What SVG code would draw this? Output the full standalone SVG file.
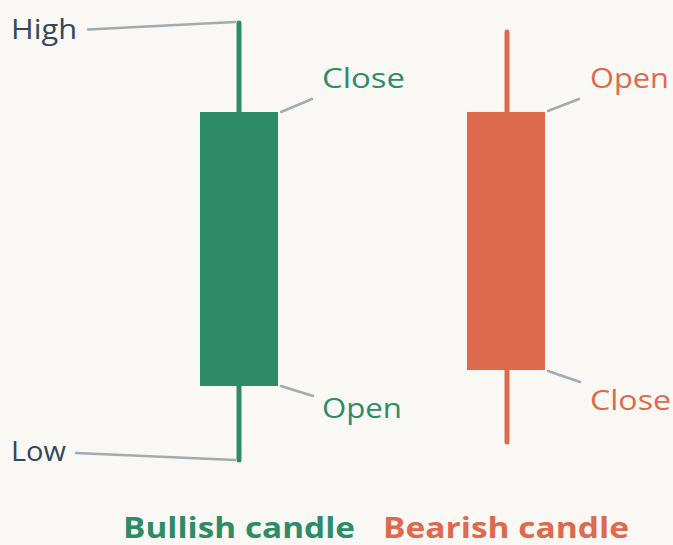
<svg xmlns="http://www.w3.org/2000/svg" width="673" height="545" viewBox="0 0 673 545">
<style>
.lbl{font-family:"Open Sans","Liberation Sans",sans-serif;font-size:28px}
.dark{fill:#34475c}
.g{fill:#2e8b67}
.r{fill:#dd6a4d}
.lead{stroke:#a2abb1;stroke-width:2.5;fill:none;stroke-linecap:round}
.title{font-family:"Open Sans","Liberation Sans",sans-serif;font-size:28px;font-weight:bold}
</style>
<rect width="673" height="545" fill="#faf8f5"/>
<g id="connectors">
<line class="lead" x1="88" y1="29.5" x2="235" y2="22"/>
<line class="lead" x1="76" y1="453" x2="235" y2="460"/>
<line class="lead" x1="281" y1="112" x2="312" y2="99"/>
<line class="lead" x1="281" y1="386" x2="313" y2="396"/>
<line class="lead" x1="548" y1="111" x2="579" y2="99"/>
<line class="lead" x1="548" y1="371" x2="580" y2="382"/>
</g>
<g id="bullish">
<line x1="239" y1="23" x2="239" y2="460" stroke="#2e8b67" stroke-width="5" stroke-linecap="round"/>
<rect x="200" y="112" width="78" height="274" fill="#2e8b67"/>
</g>
<g id="bearish">
<line x1="507" y1="32" x2="507" y2="442" stroke="#dd6a4d" stroke-width="5" stroke-linecap="round"/>
<rect x="467" y="112" width="78" height="258" fill="#dd6a4d"/>
</g>
<g id="label-high"><text class="lbl dark" x="11" y="39" textLength="66" lengthAdjust="spacingAndGlyphs">High</text></g>
<g id="label-low"><text class="lbl dark" x="11" y="461" textLength="55" lengthAdjust="spacingAndGlyphs">Low</text></g>
<g id="label-close-bull"><text class="lbl g" x="322" y="88" textLength="83" lengthAdjust="spacingAndGlyphs">Close</text></g>
<g id="label-open-bull"><text class="lbl g" x="322" y="418" textLength="80" lengthAdjust="spacingAndGlyphs">Open</text></g>
<g id="label-open-bear"><text class="lbl r" x="590" y="88" textLength="79" lengthAdjust="spacingAndGlyphs">Open</text></g>
<g id="label-close-bear"><text class="lbl r" x="590" y="410" textLength="81" lengthAdjust="spacingAndGlyphs">Close</text></g>
<g id="title-bull"><text class="title g" x="123" y="538" textLength="232" lengthAdjust="spacingAndGlyphs">Bullish candle</text></g>
<g id="title-bear"><text class="title r" x="383" y="538" textLength="246" lengthAdjust="spacingAndGlyphs">Bearish candle</text></g>
</svg>
